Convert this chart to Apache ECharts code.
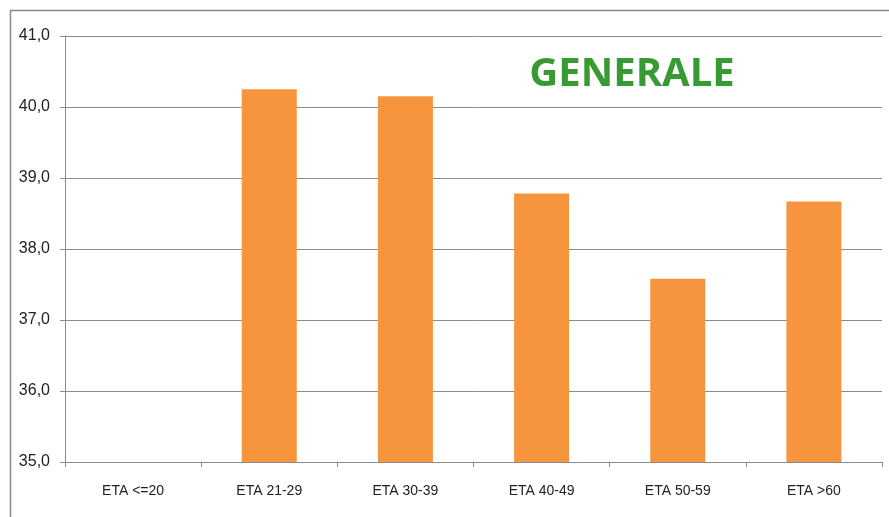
<!DOCTYPE html>
<html>
<head>
<meta charset="utf-8">
<script src="https://cdn.jsdelivr.net/npm/echarts@6/dist/echarts.min.js"></script>
<style>
  html, body { margin: 0; padding: 0; background: #fff; }
  #chart { width: 889px; height: 517px; }
</style>
</head>
<body>
<div id="chart"></div>
<script>
// data
var categories = ['ETA <=20', 'ETA 21-29', 'ETA 30-39', 'ETA 40-49', 'ETA 50-59', 'ETA >60']
var values = [null, 40.25, 40.15, 38.78, 37.58, 38.67]
var yTicks = [35, 36, 37, 38, 39, 40, 41]
var titleText = 'GENERALE'

var ele = document.getElementById('chart')
var myChart = echarts.init(ele, null, { renderer: 'canvas' })

var option = {
  animation: false,
  backgroundColor: '#fff',
  title: {
    text: titleText,
    left: 627,
    top: 50,
    textAlign: 'center',
    textStyle: {
      color: '#379b32',
      fontFamily: 'Open Sans',
      fontWeight: 'bold',
      fontSize: 40
    }
  },
  graphic: [
    {
      type: 'rect',
      shape: { x: 10.5, y: 10.5, width: 1000, height: 1000 },
      style: { fill: 'none', stroke: '#8a8a8a', lineWidth: 1.5 },
      z: -1
    }
  ],
  grid: { left: 65, right: 7, top: 36, bottom: 55 },
  xAxis: {
    type: 'category',
    data: categories,
    axisLine: { lineStyle: { color: '#8c8c8c', width: 1 } },
    axisTick: { show: true, length: 5, lineStyle: { color: '#8c8c8c' } },
    axisLabel: {
      margin: 22,
      color: '#222',
      fontFamily: 'Liberation Sans',
      fontSize: 14
    }
  },
  yAxis: {
    type: 'value',
    min: yTicks[0],
    max: yTicks[yTicks.length - 1],
    interval: 1,
    axisLine: { show: true, lineStyle: { color: '#8c8c8c', width: 1 } },
    axisTick: { show: true, length: 5, lineStyle: { color: '#8c8c8c' } },
    splitLine: { lineStyle: { color: '#8c8c8c', width: 1 } },
    axisLabel: {
      margin: 15,
      color: '#222',
      fontFamily: 'Liberation Sans',
      fontSize: 16,
      formatter: function (v) { return v.toFixed(1).replace('.', ',') }
    }
  },
  series: [
    {
      type: 'bar',
      data: values,
      barWidth: 55,
      itemStyle: { color: '#f7953f' }
    }
  ]
}

myChart.setOption(option)
</script>
</body>
</html>
